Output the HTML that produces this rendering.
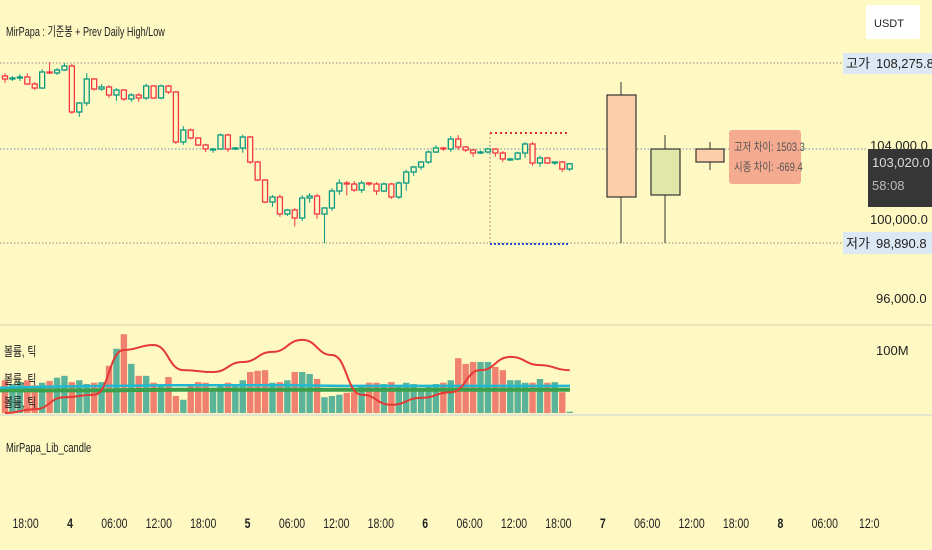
<!DOCTYPE html>
<html><head><meta charset="utf-8"><style>
html,body{margin:0;padding:0;background:#fef8c3;}
body{width:932px;height:550px;overflow:hidden;position:relative;font-family:"Liberation Sans","Noto Sans CJK KR",sans-serif;}
svg{position:absolute;left:0;top:0;}
</style></head><body>
<svg id="chart" width="932" height="550" xmlns="http://www.w3.org/2000/svg" font-family="Liberation Sans, Noto Sans CJK KR, sans-serif">
<rect x="0" y="0" width="932" height="550" fill="#fef8c3"/>
<text x="6" y="36" font-size="13" fill="#222" transform="translate(6,36) scale(0.7,1) translate(-6,-36)">MirPapa : 기준봉 + Prev Daily High/Low</text>
<rect x="866" y="5" width="54" height="34" fill="#fff" rx="2"/>
<text x="874" y="27" font-size="11" fill="#222">USDT</text>
<line x1="0" y1="63" x2="843" y2="63" stroke="#8a8a8a" stroke-dasharray="1.5,2"/>
<line x1="0" y1="149" x2="868" y2="149" stroke="#6a8fb5" stroke-dasharray="1.5,2"/>
<line x1="0" y1="243" x2="843" y2="243" stroke="#8a8a8a" stroke-dasharray="1.5,2"/>
<line x1="490" y1="133" x2="570" y2="133" stroke="#e0302a" stroke-width="2" stroke-dasharray="2,3"/>
<line x1="490" y1="244" x2="570" y2="244" stroke="#2a4fd0" stroke-width="2" stroke-dasharray="2,2"/>
<line x1="490" y1="133" x2="490" y2="244" stroke="#c09080" stroke-dasharray="2,2"/>
<g id="candles"></g>
<g>
<line x1="621" y1="82" x2="621" y2="243" stroke="#333"/><rect x="607" y="95" width="29" height="102" fill="#fccfa8" stroke="#333" stroke-width="1.2"/>
<line x1="665" y1="135" x2="665" y2="243" stroke="#333"/><rect x="651" y="149" width="29" height="46" fill="#dfe8a8" stroke="#333" stroke-width="1.2"/>
<line x1="710" y1="142" x2="710" y2="170" stroke="#333"/><rect x="696" y="149" width="28" height="13" fill="#fccfa8" stroke="#333" stroke-width="1.2"/>
</g>
<rect x="729" y="130" width="72" height="54" rx="3" fill="#f5ab8f"/>
<text x="734" y="151" font-size="12" fill="#555" transform="translate(734,151) scale(0.78,1) translate(-734,-151)">고저 차이: 1503.3</text>
<text x="734" y="171" font-size="12" fill="#555" transform="translate(734,171) scale(0.78,1) translate(-734,-171)">시종 차이: -669.4</text>
<line x1="0" y1="325" x2="932" y2="325" stroke="#d8d3b0"/>
<line x1="0" y1="415" x2="932" y2="415" stroke="#c8d0d8"/>
<g id="volume"></g>
<g id="vlines"></g>
<g font-size="13" fill="#222">
<text x="4" y="356" transform="translate(4,356) scale(0.75,1) translate(-4,-356)">볼륨, 틱</text>
<text x="4" y="384" transform="translate(4,384) scale(0.75,1) translate(-4,-384)">볼륨, 틱</text>
<text x="4" y="407" transform="translate(4,407) scale(0.75,1) translate(-4,-407)">볼륨, 틱</text>
</g>
<text x="6" y="452" font-size="13" fill="#222" transform="translate(6,452) scale(0.72,1) translate(-6,-452)">MirPapa_Lib_candle</text>
<g id="yaxis" font-size="13" fill="#222">
<rect x="843" y="53" width="89" height="21" fill="#dce8f3"/>
<text x="846" y="68">고가</text><text x="876" y="68">108,275.8</text>
<text x="870" y="150">104,000.0</text>
<text x="870" y="224">100,000.0</text>
<rect x="843" y="232" width="89" height="22" fill="#dce8f3"/>
<text x="846" y="248">저가</text><text x="876" y="248">98,890.8</text>
<text x="876" y="303">96,000.0</text>
<text x="876" y="355">100M</text>
</g>
<g>
<rect x="868" y="149" width="64" height="58" fill="#363636"/>
<text x="872" y="167" font-size="13" fill="#ddd">103,020.0</text>
<text x="872" y="190" font-size="13" fill="#bbb">58:08</text>
</g>
<g id="xaxis" font-size="14" fill="#222"></g>
</svg>
<script>
const closes=[107442,107494,107546,107181,106972,107807,107755,107911,108120,105721,106190,107442,106920,107025,106607,106868,106399,106607,106451,107077,106451,107077,106764,104157,104783,104366,104001,103792,103792,104522,103792,103844,104418,103114,102176,101028,101289,100403,100611,100194,101237,101341,100403,100716,101602,102019,101967,101654,102019,101967,101602,101967,101289,102019,102593,102853,103114,103635,103844,103792,104313,103896,103740,103583,103635,103792,103583,103271,103271,103583,104053,103062,103323,103062,103114,102749,103020];
const firstOpen=107600;
const wickUp=[150,100,150,200,100,150,520,100,150,100,50,300,50,150,100,100,50,100,100,120,50,80,50,50,200,80,50,60,50,80,60,50,130,50,60,50,100,120,60,100,150,150,120,40,150,200,100,150,120,50,100,80,60,80,120,60,50,80,150,60,150,200,50,50,80,60,40,100,60,60,100,100,120,60,40,50,50];
const wickDn=[200,100,150,50,100,50,50,100,50,100,250,150,80,100,150,300,100,150,200,100,50,60,100,100,150,80,60,160,200,50,150,60,250,100,60,60,250,150,100,440,150,250,250,1520,150,200,600,100,150,100,200,60,100,100,400,200,150,100,50,100,150,150,100,200,50,80,200,150,100,60,250,150,200,50,100,150,100];
const volumes=[52,46,49,52,44,48,51,56,59,49,52,46,48,49,75,102,125,78,59,59,48,46,57,27,21,46,49,48,40,44,48,46,52,65,67,68,48,49,52,65,65,62,54,25,27,29,32,33,43,48,48,46,49,44,48,46,40,44,46,48,52,87,78,81,81,81,73,68,52,52,48,48,54,48,49,33,2];
const redLineIdx=[0,4,8,12,16,20,24,28,32,36,40,44,48,52,56,60,64,68,72,76];
const redLineVals=[0,6,25,29,100,108,68,65,81,97,116,92,29,13,24,33,68,89,76,68];
const blueLine=[40,42,43,44,44,44,43,43,43,43,43];
const greenLine=[36,36,36,37,37,37,37,37,37,37,37];
const timeLabels=["18:00","4","06:00","12:00","18:00","5","06:00","12:00","18:00","6","06:00","12:00","18:00","7","06:00","12:00","18:00","8","06:00","12:0"];
const timeHours=[-6,0,6,12,18,24,30,36,42,48,54,60,66,72,78,84,90,96,102,108];

const NS="http://www.w3.org/2000/svg";
const xOf=i=>5+i*7.43;
const yOf=p=>63+(108275.8-p)/52.14;
const vY=v=>413-v*0.63;
const tX=h=>70+h*7.4;
function mk(tag,attrs,parent){const e=document.createElementNS(NS,tag);for(const k in attrs)e.setAttribute(k,attrs[k]);parent.appendChild(e);return e;}
const cg=document.getElementById('candles');
const vg=document.getElementById('volume');
for(let i=0;i<closes.length;i++){
  const o=i===0?firstOpen:closes[i-1], c=closes[i];
  const up=c>=o, col=up?'#089981':'#f23645';
  const x=xOf(i);
  const hi=Math.max(o,c)+wickUp[i], lo=Math.min(o,c)-wickDn[i];
  const w=mk('line',{x1:x,x2:x,y1:yOf(hi),y2:yOf(lo),stroke:col,'stroke-width':1},cg);
  
  
  const top=yOf(Math.max(o,c)), bot=yOf(Math.min(o,c));
  const b=mk('rect',{x:x-2.5,y:top,width:5,height:Math.max(1,bot-top),fill:'#fef8c3',stroke:col,'stroke-width':1.3},cg);
  
  
  const vb=mk('rect',{x:x-3.2,y:vY(volumes[i]),width:6.4,height:volumes[i]*0.63,fill:up?'#5bb39a':'#f0806f'},vg);
  
  
}
const lg=document.getElementById('vlines');
function flatPath(arr,col,w){
  let d='';arr.forEach((v,k)=>{const x=k*57;d+=(k?'L':'M')+x+','+vY(v);});
  const p=mk('path',{d:d,fill:'none',stroke:col,'stroke-width':w},lg);return p;}
const gp=flatPath(greenLine,'#3aa04a',4);


const bp=flatPath(blueLine,'#1fb8d0',2.5);


let pts=redLineIdx.map((i,k)=>[xOf(i),vY(redLineVals[k])]);
let d='M'+pts[0][0]+','+pts[0][1];
for(let k=1;k<pts.length;k++){const p0=pts[k-1],p1=pts[k];const mx=(p0[0]+p1[0])/2;d+=' C'+mx+','+p0[1]+' '+mx+','+p1[1]+' '+p1[0]+','+p1[1];}
const rp=mk('path',{d:d,fill:'none',stroke:'#e53935','stroke-width':2},lg);


const xg=document.getElementById('xaxis');
timeLabels.forEach((t,k)=>{
  const bold=t.length===1;
  const tx=mk('text',{x:tX(timeHours[k]),y:528,'text-anchor':'middle','font-weight':bold?'bold':'normal',transform:'translate('+tX(timeHours[k])+',528) scale(0.75,1) translate('+(-tX(timeHours[k]))+',-528)'},xg);
  tx.textContent=t;
  
  
});
</script>
</body></html>
